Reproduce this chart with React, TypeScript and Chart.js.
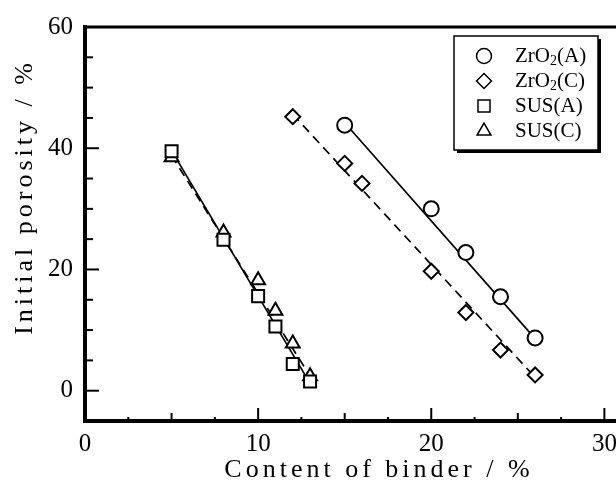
import React, { useEffect, useRef } from 'react';
import { Chart, registerables } from 'chart.js';
import * as helpers from 'chart.js/helpers';

Chart.register(...registerables);

// ---------- data ----------
const seriesLabels = ['ZrO₂(A)', 'ZrO₂(C)', 'SUS(A)', 'SUS(C)'];

const zrA_x = [15, 20, 22, 24, 26];
const zrA_y = [43.8, 30.0, 22.8, 15.5, 8.7];
const zrC_x = [12, 15, 16, 20, 22, 24, 26];
const zrC_y = [45.2, 37.5, 34.2, 19.7, 12.9, 6.7, 2.6];
const susA_x = [5, 8, 10, 11, 12, 13];
const susA_y = [39.5, 24.9, 15.6, 10.6, 4.4, 1.5];
const susC_x = [5, 8, 10, 11, 12, 13];
const susC_y = [38.5, 26.1, 18.2, 13.2, 7.8, 2.4];

// fitted straight lines (end points)
const zrA_fit_x = [15, 26];
const zrA_fit_y = [44.2, 8.6];
const zrC_fit_x = [12, 26];
const zrC_fit_y = [45.6, 2.2];
const susA_fit_x = [5, 13];
const susA_fit_y = [39.6, 1.2];
const susC_fit_x = [5, 13];
const susC_fit_y = [38.8, 2.4];

const xTickValues = [0, 10, 20, 30];
const yTickValues = [0, 20, 40, 60];
const xMidTicks = [5, 15, 25];
const xMinorTicks = [2.5, 7.5, 12.5, 17.5, 22.5, 27.5];
const yMinorTicks = [5, 10, 15, 25, 30, 35, 45, 50, 55];

const xTitle = 'Content of binder / %';
const yTitle = 'Initial porosity / %';

const FONT = '"Liberation Serif", "Times New Roman", serif';

const pts = (xs: number[], ys: number[]) => xs.map((x, i) => ({ x, y: ys[i] }));

const frameTicksPlugin = {
  id: 'frameTicks',
  beforeDatasetsDraw(chart: any) {
    const { ctx, chartArea } = chart;
    const xs = chart.scales.x;
    const ys = chart.scales.y;
    ctx.save();
    ctx.strokeStyle = '#000';
    // top frame line
    ctx.lineWidth = 3;
    ctx.beginPath();
    ctx.moveTo(chartArea.left - 2, chartArea.top);
    ctx.lineTo(chartArea.right + 10, chartArea.top);
    ctx.stroke();
    ctx.lineWidth = 2;
    const b = chartArea.bottom;
    const l = chartArea.left;
    const xt = (vals: number[], len: number) => {
      vals.forEach((v) => {
        const p = xs.getPixelForValue(v);
        ctx.beginPath();
        ctx.moveTo(p, b);
        ctx.lineTo(p, b - len);
        ctx.stroke();
      });
    };
    const yt = (vals: number[], len: number) => {
      vals.forEach((v) => {
        const p = ys.getPixelForValue(v);
        ctx.beginPath();
        ctx.moveTo(l, p);
        ctx.lineTo(l + len, p);
        ctx.stroke();
      });
    };
    xt(xTickValues, 13);
    xt(xMidTicks, 8);
    xt(xMinorTicks, 4);
    yt(yTickValues, 14);
    yt(yMinorTicks, 8);
    ctx.restore();
  },
};

const titlesPlugin = {
  id: 'axisTitles',
  afterDraw(chart: any) {
    const { ctx } = chart;
    ctx.save();
    ctx.fillStyle = '#000';
    ctx.font = `26px ${FONT}`;
    (ctx as any).letterSpacing = '4px';
    ctx.textAlign = 'center';
    ctx.textBaseline = 'alphabetic';
    ctx.fillText(xTitle, 379, 477);
    ctx.translate(32, 199);
    ctx.rotate(-Math.PI / 2);
    ctx.fillText(yTitle, 2, 0);
    ctx.restore();
  },
};

const legendPlugin = {
  id: 'boxLegend',
  afterDatasetsDraw(chart: any) {
    const { ctx } = chart;
    const bx = 454, by = 36, bw = 144, bh = 114;
    ctx.save();
    ctx.fillStyle = '#000';
    ctx.fillRect(bx + 3, by + 3, bw, bh);
    ctx.fillStyle = '#fff';
    ctx.fillRect(bx, by, bw, bh);
    ctx.strokeStyle = '#000';
    ctx.lineWidth = 1.5;
    ctx.strokeRect(bx, by, bw, bh);
    chart.data.datasets.forEach((ds: any) => {
      if (ds.legendRow === undefined) return;
      const y = by + 20 + ds.legendRow * 25;
      ctx.fillStyle = '#fff';
      ctx.strokeStyle = '#000';
      ctx.lineWidth = 1.5;
      helpers.drawPoint(ctx, { pointStyle: ds.pointStyle, radius: ds.pointRadius, borderWidth: 1.5, rotation: 0 }, 484, y);
      // text with subscript
      ctx.fillStyle = '#000';
      ctx.textBaseline = 'middle';
      ctx.textAlign = 'left';
      const parts = String(ds.label).split('₂');
      let x = 515;
      ctx.font = `21px ${FONT}`;
      ctx.fillText(parts[0], x, y);
      x += ctx.measureText(parts[0]).width;
      if (parts.length > 1) {
        ctx.font = `14px ${FONT}`;
        ctx.fillText('2', x, y + 5);
        x += ctx.measureText('2').width;
        ctx.font = `21px ${FONT}`;
        ctx.fillText(parts[1], x, y);
      }
    });
    ctx.restore();
  },
};

export default function App() {
  const ref = useRef<HTMLCanvasElement>(null);
  useEffect(() => {
    if (!ref.current) return;
    const pointCommon = {
      showLine: false,
      borderColor: '#000',
      backgroundColor: '#fff',
      pointBorderWidth: 2,
      order: 1,
    };
    const lineCommon = {
      showLine: true,
      pointRadius: 0,
      borderColor: '#000',
      borderWidth: 1.7,
      order: 2,
    };
    const chart = new Chart(ref.current, {
      type: 'scatter',
      data: {
        datasets: [
          { ...pointCommon, label: seriesLabels[0], legendRow: 0, data: pts(zrA_x, zrA_y), pointStyle: 'circle', pointRadius: 7.5 } as any,
          { ...pointCommon, label: seriesLabels[1], legendRow: 1, data: pts(zrC_x, zrC_y), pointStyle: 'rectRot', pointRadius: 7.5 } as any,
          { ...pointCommon, label: seriesLabels[2], legendRow: 2, data: pts(susA_x, susA_y), pointStyle: 'rect', pointRadius: 8.5 } as any,
          { ...pointCommon, label: seriesLabels[3], legendRow: 3, data: pts(susC_x, susC_y), pointStyle: 'triangle', pointRadius: 8 } as any,
          { ...lineCommon, label: 'fitA', data: pts(zrA_fit_x, zrA_fit_y) } as any,
          { ...lineCommon, label: 'fitC', data: pts(zrC_fit_x, zrC_fit_y), borderDash: [9, 6] } as any,
          { ...lineCommon, label: 'fitSA', data: pts(susA_fit_x, susA_fit_y) } as any,
          { ...lineCommon, label: 'fitSC', data: pts(susC_fit_x, susC_fit_y), borderDash: [9, 6] } as any,
        ],
      },
      options: {
        animation: false,
        responsive: false,
        devicePixelRatio: 1,
        layout: { padding: { top: 22, right: 11, left: 0, bottom: 0 } },
        plugins: { legend: { display: false }, tooltip: { enabled: false }, title: { display: false } },
        scales: {
          x: {
            type: 'linear',
            min: 0,
            max: 32,
            afterFit: (s: any) => { s.height = 61; },
            afterBuildTicks: (s: any) => { s.ticks = xTickValues.map((v) => ({ value: v })); },
            grid: { display: false, drawTicks: false },
            border: { display: true, width: 4, color: '#000' },
            ticks: { padding: 8, color: '#000', font: { family: FONT, size: 25 }, maxRotation: 0, autoSkip: false },
          },
          y: {
            type: 'linear',
            min: -5,
            max: 60,
            afterFit: (s: any) => { s.width = 85; },
            afterBuildTicks: (s: any) => { s.ticks = yTickValues.map((v) => ({ value: v })); },
            grid: { display: false, drawTicks: false },
            border: { display: true, width: 4, color: '#000' },
            ticks: { padding: 12, color: '#000', font: { family: FONT, size: 25 }, autoSkip: false },
          },
        },
      } as any,
      plugins: [frameTicksPlugin, legendPlugin, titlesPlugin],
    });
    return () => chart.destroy();
  }, []);
  return (
    <div style={{ position: 'fixed', left: 0, top: 0, width: 616, height: 482, overflow: 'hidden', background: '#fff' }}>
      <canvas ref={ref} width={650} height={482} style={{ display: 'block' }} />
    </div>
  );
}
